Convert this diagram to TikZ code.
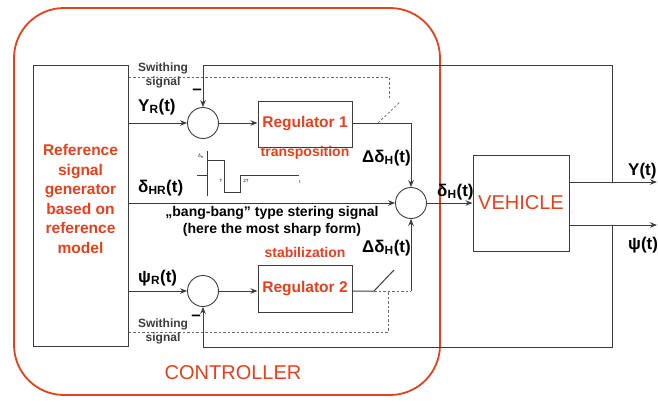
\documentclass[tikz,border=0pt]{standalone}
\usepackage{fontspec}
\setmainfont{Liberation Sans}
\usetikzlibrary{positioning,arrows.meta,calc}
\definecolor{red600}  {HTML}{E6401C}
\definecolor{grey800} {HTML}{3C3C3C}
\definecolor{grey500} {HTML}{6A6A6A}
\tikzset{
  frame/.style ={draw=red600, line width=1.8pt, rounded corners=50pt},
  blk/.style   ={draw=grey800, line width=1pt, inner sep=0pt},
  reg/.style   ={blk, minimum width=94pt, text=red600,
                 font=\bfseries\fontsize{15.5}{18}\selectfont},
  sum/.style   ={draw=grey800, line width=0.9pt, circle,
                 minimum size=31pt, inner sep=0pt},
  ar/.style    ={-{Stealth[length=7pt,width=5.5pt]}, draw=grey800,
                 line width=1pt},
  ln/.style    ={draw=grey800, line width=1pt},
  sw/.style    ={draw=grey500, line width=0.7pt,
                 dash pattern=on 2.5pt off 2pt},
  sig/.style   ={font=\bfseries\fontsize{17}{19}\selectfont, inner sep=0pt},
  tag/.style   ={font=\bfseries\fontsize{12}{14}\selectfont, inner sep=0pt,
                 align=center, text=grey800},
  note/.style  ={font=\bfseries\fontsize{14}{17}\selectfont, inner sep=0pt,
                 align=center},
  rtxt/.style  ={text=red600, font=\bfseries\fontsize{15.5}{19.6}\selectfont,
                 inner sep=0pt, align=center},
  rtag/.style  ={text=red600, font=\bfseries\fontsize{14}{16}\selectfont,
                 inner sep=0pt},
  tiny/.style  ={font=\fontsize{4.5}{5}\selectfont, inner sep=0pt}
}
\begin{document}
\begin{tikzpicture}[x=1pt,y=-1pt]
\useasboundingbox (0,0) rectangle (658,405);

% controller frame
\draw[frame] (14,8) rectangle (440,395);
\node[text=red600, font=\fontsize{20}{22}\selectfont, inner sep=0pt]
  (ctrl) at (233,373) {CONTROLLER};

% blocks
\node[blk, minimum width=95pt, minimum height=281pt] (gen) at (80.5,205.5) {};
\node[rtxt] (gentxt) at (80.5,199)
  {Reference\\signal\\generator\\based on\\reference\\model};
\node[sum] (sumY)   at (203,123) {};
\node[sum] (sumPsi) at (203,291) {};
\node[sum] (sumD)   at (411,203) {};
\node[reg, minimum height=46pt] (reg1) at (305,124)   {Regulator 1};
\node[reg, minimum height=47pt] (reg2) at (305,288.5) {Regulator 2};
\node[blk, minimum size=96pt, text=red600,
      font=\fontsize{20}{22}\selectfont] (veh) at (521,203) {VEHICLE};

\coordinate (yEnd)   at (657,182);
\coordinate (psiEnd) at (657,225);
\coordinate (fbY)    at (612,182);
\coordinate (fbPsi)  at (612,225);
\coordinate (topR)   at (612,65);
\coordinate (botR)   at (612,347);
\coordinate (sw1)    at (378,123);
\coordinate (sw2)    at (374,291);
\coordinate (sig1)   at (389,77);
\coordinate (sig2)   at (388,332);

% upper branch
\draw[ar] (gen.east |- sumY) -- (sumY);
\draw[ar] (sumY) -- (reg1.west |- sumY);
\draw[ar] (reg1.east |- sumY) -- (sumD |- sumY) -- (sumD);
\draw[sw] (sw1) -- ++(22,-21);
\draw[sw] (gen.east |- sig1) -- (sig1) -- ++(0,22);

% middle branch
\draw[ar] (gen.east |- sumD) -- (sumD);
\draw[ar] (sumD) -- (veh);

% lower branch
\draw[ar] (gen.east |- sumPsi) -- (sumPsi);
\draw[ar] (sumPsi) -- (reg2.west |- sumPsi);
\draw[ln] (reg2.east |- sumPsi) -- (sw2) -- ++(20,-21);
\draw[sw] (sw2) -- (sumD |- sw2);
\draw[ar] (sumD |- sw2) -- (sumD);
\draw[sw] (gen.east |- sig2) -- (sig2) -- (sig2 |- sw2);

% outputs and feedback
\draw[ar] (veh.east |- yEnd) -- (yEnd);
\draw[ar] (veh.east |- psiEnd) -- (psiEnd);
\draw[ar] (fbY) -- (topR) -- (sumY |- topR) -- (sumY);
\draw[ar] (fbPsi) -- (botR) -- (sumPsi |- botR) -- (sumPsi);

% bang-bang sketch
\draw[ln, line width=0.5pt] (207,151) -- (207,196);
\draw[ln, line width=0.9pt] (197,175) -- (207,175) -- (207,160) -- (224,160)
  -- (224,192) -- (240,192) -- (240,175) -- (299,175);
\node[tiny] (pH)  at (201,156) {δ\textsubscript{H}};
\node[tiny] (pT)  at (221,181) {T};
\node[tiny] (p2T) at (246,181) {2T};
\node[tiny] (pt)  at (300,182) {t};

% signal labels
\node[sig, anchor=base west] (lYR)   at (138,111) {Y\textsubscript{R}(t)};
\node[sig, anchor=base west] (lDHR)  at (138,192) {δ\textsubscript{HR}(t)};
\node[sig, anchor=base west] (lPsiR) at (138,282) {ψ\textsubscript{R}(t)};
\node[sig, anchor=base west] (lDH1)  at (362,162) {Δδ\textsubscript{H}(t)};
\node[sig, anchor=base west] (lDH2)  at (362,252) {Δδ\textsubscript{H}(t)};
\node[sig, anchor=base west] (lDH)   at (437,196) {δ\textsubscript{H}(t)};
\node[sig, anchor=base west] (lY)    at (628,175) {Y(t)};
\node[sig, anchor=base west] (lPsi)  at (628,249) {ψ(t)};
\node[sig] (mY)   at (197,92)  {–};
\node[sig] (mPsi) at (196,318) {–};

\node[tag] (tag1) at (163,75)  {Swithing\\signal};
\node[tag] (tag2) at (163,331) {Swithing\\signal};
\node[note] (bang) at (272,221)
  {„bang-bang” type stering signal\\(here the most sharp form)};
\node[rtag] (trans) at (305,153) {transposition};
\node[rtag] (stab)  at (305,252) {stabilization};
\end{tikzpicture}
\end{document}
